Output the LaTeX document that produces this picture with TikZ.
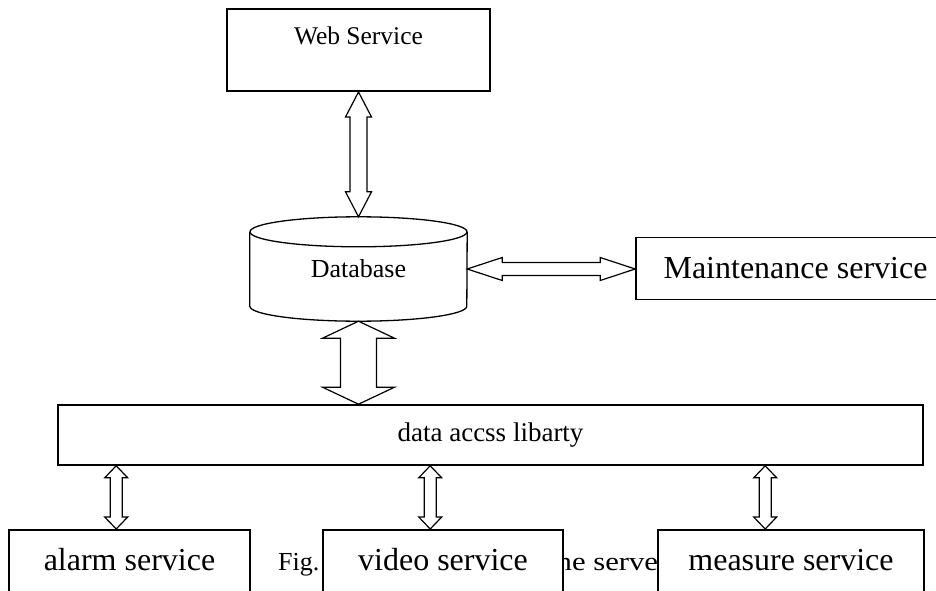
\documentclass[tikz,border=0pt]{standalone}
\usepackage{fontspec}
\setmainfont{Liberation Serif}
\newfontfamily\widefont[FakeStretch=1.18]{Liberation Serif}
\usetikzlibrary{calc}

\newcommand{\setfs}[1]{\fontsize{#1}{#1}\selectfont}

\tikzset{
    box/.style={draw, line width=1.6pt, fill=white, inner sep=0pt},
    bottombox/.style={box, anchor=north, minimum height=100pt,
        text height=20pt, text depth=38pt, font=\setfs{32pt}},
    cyl/.style={line width=1.3pt},
    % #1 軸の半幅, #2 矢じりの半幅, #3 矢じりの長さ
    hollow/.style n args={3}{line width=1.2pt, to path={
        -- ($($(\tikztostart)!#3!(\tikztotarget)$)!#2!90:(\tikztotarget)$)
        -- ($($(\tikztostart)!#3!(\tikztotarget)$)!#1!90:(\tikztotarget)$)
        -- ($($(\tikztotarget)!#3!(\tikztostart)$)!#1!-90:(\tikztostart)$)
        -- ($($(\tikztotarget)!#3!(\tikztostart)$)!#2!-90:(\tikztostart)$)
        -- (\tikztotarget)
        -- ($($(\tikztotarget)!#3!(\tikztostart)$)!#2!90:(\tikztostart)$)
        -- ($($(\tikztotarget)!#3!(\tikztostart)$)!#1!90:(\tikztostart)$)
        -- ($($(\tikztostart)!#3!(\tikztotarget)$)!#1!-90:(\tikztotarget)$)
        -- ($($(\tikztostart)!#3!(\tikztotarget)$)!#2!-90:(\tikztotarget)$)
        -- cycle}},
}

\begin{document}
\begin{tikzpicture}[x=1pt, y=1pt]
    \useasboundingbox (0, 0) rectangle (936, 590);

    % 図の説明 (箱の下に隠れる)
    \node[anchor=base west, font=\setfs{26pt}, inner sep=0pt] (figl) at (278, 20) {Fig.};
    \node[anchor=base west, font=\widefont\setfs{26pt}, inner sep=0pt] (figr) at (548, 20) {the server};

    % 箱
    \node[box, line width=2pt, minimum width=263pt, minimum height=82pt,
        text height=18pt, text depth=28pt, font=\setfs{25.5pt}] (web) at (358.5, 540) {Web Service};
    \node[minimum width=217pt, minimum height=104pt, inner sep=0pt,
        font=\setfs{26pt}] (db) at (358.5, 321) {Database};
    \node[box, minimum width=319pt, minimum height=62pt, font=\setfs{32pt}] (maint) at (795.5, 321.5) {Maintenance service};
    \node[box, minimum width=865pt, minimum height=60pt,
        font=\setfs{27pt}] (data) at (490.5, 155) {data accss libarty};
    \node[bottombox, minimum width=241pt] (alarm) at (129.5, 61) {alarm service};
    \node[bottombox, minimum width=240pt] (video) at (443, 61) {video service};
    \node[bottombox, minimum width=266pt] (measure) at (791, 61) {measure service};

    % データベースの円柱
    \draw[cyl] (db.north) ++(0, -15) ellipse [x radius=108.5, y radius=15];
    \draw[cyl] (db.north west) ++(0, -15) -- ($(db.south west) + (0, 15)$)
        arc [start angle=180, end angle=360, x radius=108.5, y radius=15]
        -- ($(db.north east) + (0, -15)$);

    % 矢印
    \draw[hollow={8.5pt}{13pt}{25pt}] (web.south) to (db.north);
    \draw[hollow={6.5pt}{11.5pt}{35pt}] (db.east) to (db.east -| maint.west);
    \draw[hollow={18pt}{36pt}{17pt}] (db.south) to (db.south |- data.north);
    \foreach \s in {alarm, video, measure} {
        \coordinate (\s top) at ($(\s.north west) + (108, 0)$);
        \coordinate (\s bot) at (\s top |- data.south);
        \draw[hollow={6pt}{11.5pt}{12pt}] (\s bot) to (\s top);
    }
\end{tikzpicture}
\end{document}
